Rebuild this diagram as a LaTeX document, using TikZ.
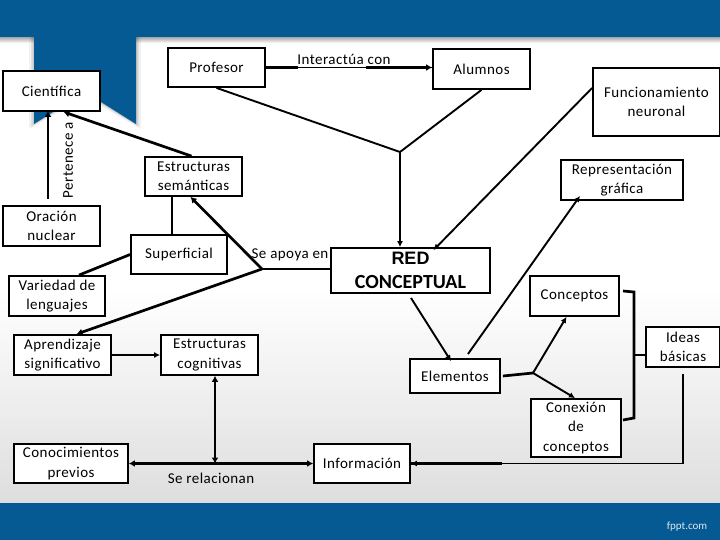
\documentclass[tikz,border=0pt]{standalone}
\usepackage{fontspec}
\setmainfont[LetterSpace=3]{Carlito}
\newfontfamily\arialbold{Liberation Sans}
\usetikzlibrary{arrows.meta}
\definecolor{banda}{HTML}{055A94}
\tikzset{
    caja/.style 2 args={draw=black, fill=white, line width=1.8pt, minimum width=#1, minimum height=#2, inner sep=0pt, align=center, font=\fontsize{15}{19.3}\selectfont},
    rotulo/.style={inner sep=0pt, align=center, font=\fontsize{15}{19}\selectfont},
    fina/.style={line width=1.9pt, -{Latex[length=6pt,width=6pt]}},
    gruesa/.style={line width=2.7pt, -{Latex[length=6pt,width=7pt]}},
    doble/.style={line width=2.7pt, {Latex[length=6pt,width=7pt]}-{Latex[length=6pt,width=7pt]}}
}
\begin{document}
\begin{tikzpicture}[x=1pt,y=-1pt]
    \useasboundingbox (0,0) rectangle (720,540);

    % Background
    \fill[white] (0,0) rectangle (720,290);
    \shade[top color=white, bottom color=black!13] (0,290) rectangle (720,503);
    \shade[top color=black!35, bottom color=white] (0,37) rectangle (720,43);
    \foreach \d/\o in {5/0.05, 3/0.07, 1.5/0.1}
        \fill[black, opacity=\o] (34-\d,0) -- (136+\d,0) -- (136+\d,124+\d) -- (85,92+\d) -- (34-\d,124+\d) -- cycle;
    \fill[banda] (0,0) rectangle (720,37);
    \fill[banda] (34,0) -- (136,0) -- (136,124) -- (85,92) -- (34,124) -- cycle;
    \fill[banda] (0,503) rectangle (720,540);
    \node[text=white!85!banda, inner sep=0pt, font=\fontsize{11}{13}\selectfont\addfontfeatures{LetterSpace=0}] (fppt) at (687,527) {fppt.com};

    % Boxes
    \node[caja={97}{39}] (profesor) at (216.5,67.5) {Profesor};
    \node[caja={97}{40}] (alumnos) at (481.5,69) {Alumnos};
    \node[caja={97}{40}] (cientifica) at (51.5,91) {Científica};
    \node[caja={127}{68}] (funcionamiento) at (656.5,102) {Funcionamiento\\neuronal};
    \node[caja={97}{39}] (semanticas) at (193.5,176.5) {Estructuras\\semánticas};
    \node[caja={122}{40}] (representacion) at (622,180) {Representación\\gráfica};
    \node[caja={97}{40}] (oracion) at (51.5,226) {Oración\\nuclear};
    \node[caja={96}{39}] (superficial) at (179,254.5) {Superficial};
    \node[caja={159}{45}] (red) at (410.5,270.5) {{\arialbold\bfseries\fontsize{18}{23}\selectfont RED}\\[4pt]{\bfseries\fontsize{20}{23}\selectfont\addfontfeatures{LetterSpace=0}CONCEPTUAL}};
    \node[caja={96}{40}] (variedad) at (57,296) {Variedad de\\lenguajes};
    \node[caja={89}{40}] (conceptos) at (574.5,296) {Conceptos};
    \node[caja={97}{40}] (aprendizaje) at (62.5,355) {Aprendizaje\\significativo};
    \node[caja={97}{40}] (cognitivas) at (209.5,355) {Estructuras\\cognitivas};
    \node[caja={74}{40}] (ideas) at (683,347) {Ideas\\básicas};
    \node[caja={90}{34}] (elementos) at (455,376) {Elementos};
    \node[caja={90}{58}] (conexion) at (576,428) {Conexión\\de\\conceptos};
    \node[caja={114}{39}] (conocimientos) at (71,463.5) {Conocimientos\\previos};
    \node[caja={96}{39}] (informacion) at (362,463.5) {Información};

    % Labels
    \node[rotulo] (interactua) at (344,59) {Interactúa con};
    \node[rotulo, rotate=90] (pertenece) at (68,160) {Pertenece a};
    \node[rotulo] (apoya) at (290,255) {Se apoya en};
    \node[rotulo] (relacionan) at (211,478) {Se relacionan};

    % Junctions and free ends
    \coordinate (cruce) at (400,152);
    \coordinate (apoyo) at (262,269);
    \coordinate (rama) at (533,373);
    \coordinate (abajo) at (215,463.5);
    \coordinate (esquina) at (683,463.5);
    \coordinate (iniOracion) at (48,199);
    \coordinate (finOracion) at (48,111);
    \coordinate (iniElementos) at (468,354);
    \coordinate (iniRed) at (411,298);
    \coordinate (iniIdeas) at (683,374);
    \coordinate (corA) at (623,291);
    \coordinate (corB) at (634,292);
    \coordinate (corC) at (634,418);
    \coordinate (corD) at (623,420);
    \coordinate (corE) at (634,355);
    \coordinate (medProfesor) at (298,67.5);
    \coordinate (medAlumnos) at (366,67.5);
    \coordinate (medInfo) at (502,463.5);
    \coordinate (medApoyo) at (305,269);

    % Connectors
    \draw[fina, -] (profesor.east) -- (alumnos.west |- profesor.east);
    \draw[gruesa, -] (profesor.east) -- (medProfesor);
    \draw[gruesa] (medAlumnos) -- (alumnos.west |- profesor.east);
    \draw[gruesa] (iniOracion) -- (finOracion);
    \draw[gruesa] ([xshift=-2pt]semanticas.north) -- ([xshift=12pt]cientifica.south);
    \draw[fina, -] (profesor.south) -- (cruce);
    \draw[fina, -] (alumnos.south) -- (cruce);
    \draw[fina] (cruce) -- (red.north -| cruce);
    \draw[fina] ([yshift=14pt]funcionamiento.west) -- ([xshift=23pt,yshift=-3pt]red.north);
    \draw[fina] (iniElementos) -- ([xshift=-42pt,yshift=5pt]representacion.south);
    \draw[gruesa, -] ([xshift=-21.5pt]semanticas.south) -- ([xshift=-7pt]superficial.north);
    \draw[gruesa, -] (superficial.west) -- ([xshift=22pt]variedad.north);
    \draw[fina, -] (red.west |- apoyo) -- (apoyo);
    \draw[gruesa, -] (medApoyo) -- (apoyo);
    \draw[gruesa] (apoyo) -- ([xshift=-3pt]semanticas.south);
    \draw[gruesa] (apoyo) -- ([xshift=14pt]aprendizaje.north);
    \draw[fina] (aprendizaje.east) -- (cognitivas.west);
    \draw[doble] ([xshift=5.5pt]cognitivas.south) -- (abajo);
    \draw[doble] (conocimientos.east) -- (informacion.west);
    \draw[fina] (iniIdeas) -- (esquina) -- (informacion.east);
    \draw[gruesa, -] (medInfo) -- (informacion.east);
    \draw[fina] (iniRed) -- ([xshift=-4pt,yshift=-3pt]elementos.north);
    \draw[gruesa, -] ([xshift=2pt]elementos.east) -- (rama);
    \draw[fina] (rama) -- ([xshift=-8pt]conceptos.south);
    \draw[fina] (rama) -- ([xshift=-1pt]conexion.north);
    \draw[gruesa, -] (corA) -- (corB) -- (corC) -- (corD);
    \draw[gruesa, -] (corE) -- (corE -| ideas.west);
\end{tikzpicture}
\end{document}
